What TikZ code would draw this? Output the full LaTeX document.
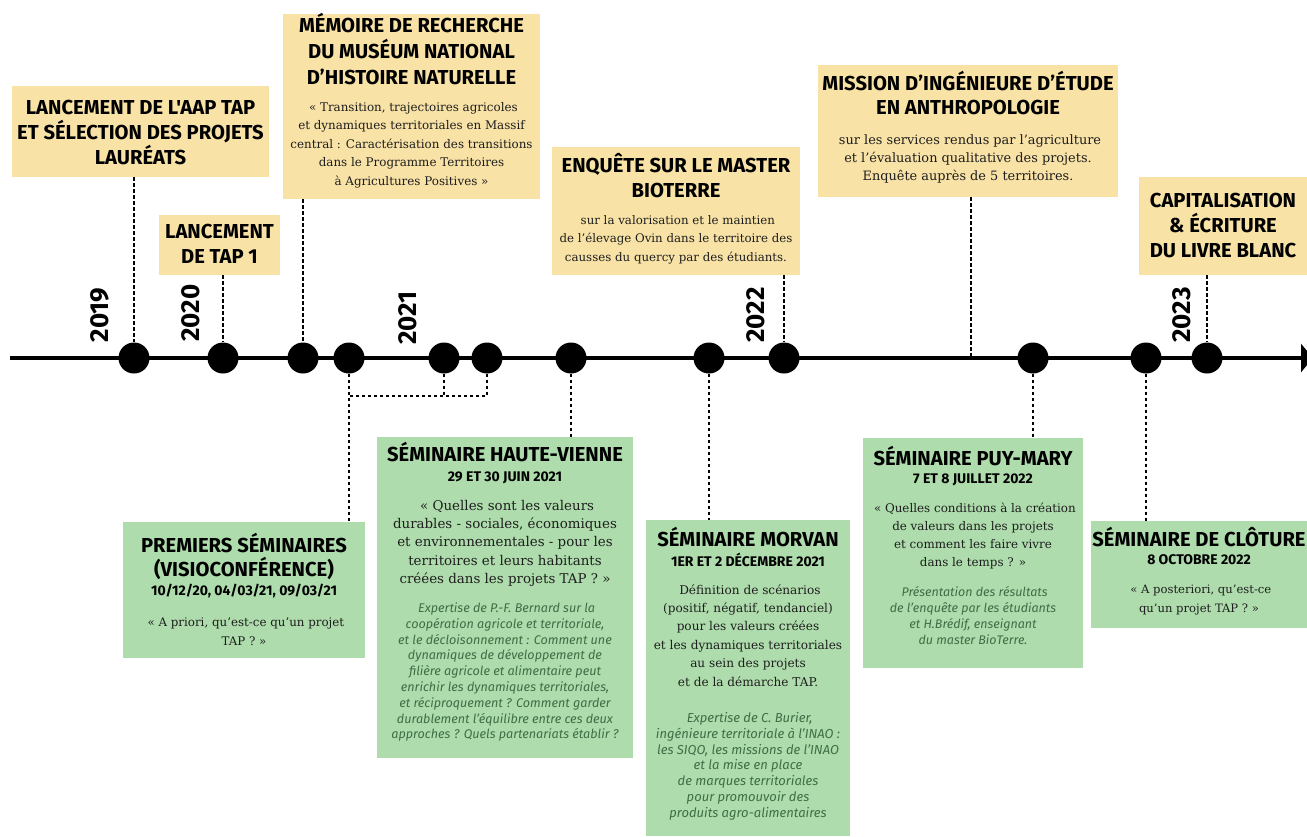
\documentclass[tikz,border=0pt]{standalone}
\usepackage{fontspec}
\setmainfont{DejaVu Serif}
\newfontfamily\hdfont{Fira Sans}
\newfontfamily\itfont{Fira Sans}
\usetikzlibrary{arrows.meta}
\definecolor{ylw}{RGB}{248,226,166}
\definecolor{grn}{RGB}{174,220,172}
\definecolor{itgreen}{RGB}{62,110,70}
\definecolor{bodytxt}{RGB}{30,30,30}
\newcommand\ttlf{\color{black}\hdfont\bfseries\fontsize{20.2}{25}\selectfont}
\newcommand\datef{\hdfont\bfseries\fontsize{14}{16}\selectfont}
\newcommand\bodyf[2]{\color{bodytxt}\fontsize{#1}{#2}\selectfont}
\newcommand\itf[2]{\itfont\itshape\color{itgreen}\fontsize{#1}{#2}\selectfont}
\newcommand\pb[1]{\parbox[t]{340pt}{\centering\leavevmode #1\par}}
\tikzset{
  ybox/.style={fill=ylw, draw=none, inner sep=0pt},
  gbox/.style={fill=grn, draw=none, inner sep=0pt},
  txt/.style={anchor=base, inner sep=0pt},
  dot/.style={circle, fill=black, minimum size=31pt, inner sep=0pt},
  conn/.style={line width=1.8pt, dash pattern=on 3.5pt off 2.5pt},
  yearlbl/.style={rotate=90, inner sep=0pt, font=\hdfont\bfseries\fontsize{26}{26}\selectfont},
  axis/.style={line width=3.5pt, -{Triangle[length=12pt, width=28pt]}}
}
\begin{document}
\begin{tikzpicture}[x=1pt,y=-1pt]
\useasboundingbox (0,0) rectangle (1307,836);

% boxes
\node[ybox, minimum width=257pt, minimum height=91pt] (bA) at (140.5,131.5) {};
\node[ybox, minimum width=121pt, minimum height=60pt] (bB) at (219.5,245) {};
\node[ybox, minimum width=257pt, minimum height=185pt] (bC) at (411.5,106.5) {};
\node[ybox, minimum width=248pt, minimum height=128pt] (bD) at (676,211) {};
\node[ybox, minimum width=300pt, minimum height=132pt] (bE) at (968,131) {};
\node[ybox, minimum width=168pt, minimum height=98pt] (bF) at (1223,226) {};
\node[gbox, minimum width=242pt, minimum height=136pt] (bG) at (244,590) {};
\node[gbox, minimum width=256pt, minimum height=321pt] (bH) at (505,597.5) {};
\node[gbox, minimum width=204pt, minimum height=316pt] (bI) at (748,678) {};
\node[gbox, minimum width=220pt, minimum height=230pt] (bJ) at (973,553) {};
\node[gbox, minimum width=216pt, minimum height=107pt] (bK) at (1199,574.5) {};

% timeline
\coordinate (ls) at (10,358);
\coordinate (le) at (1313,358);
\draw[axis] (ls) -- (le);

% dots
\node[dot] (d1) at (134,358) {};
\node[dot] (d2) at (223,358) {};
\node[dot] (d3) at (303,358) {};
\node[dot] (d4) at (349,358) {};
\node[dot] (d5) at (444,358) {};
\node[dot] (d6) at (487,358) {};
\node[dot] (d7) at (571,358) {};
\node[dot] (d8) at (709,358) {};
\node[dot] (d9) at (784,358) {};
\node[dot] (d10) at (1033,358) {};
\node[dot] (d11) at (1146,358) {};
\node[dot] (d12) at (1207,358) {};
\coordinate (eE) at (971,358);
\coordinate (br) at (349,396);

% connectors
\draw[conn] (d1 |- bA.south) -- (d1);
\draw[conn] (d2 |- bB.south) -- (d2);
\draw[conn] (d3 |- bC.south) -- (d3);
\draw[conn] (d9 |- bD.south) -- (d9);
\draw[conn] (eE |- bE.south) -- (eE);
\draw[conn] (d12 |- bF.south) -- (d12);
\draw[conn] (d4) -- (d4 |- bG.north);
\draw[conn] (d5) -- (d5 |- br);
\draw[conn] (d6) -- (d6 |- br) -- (br);
\draw[conn] (d7) -- (d7 |- bH.north);
\draw[conn] (d8) -- (d8 |- bI.north);
\draw[conn] (d10) -- (d10 |- bJ.north);
\draw[conn] (d11) -- (d11 |- bK.north);

% years
\node[yearlbl] (y19) at (100,315) {2019};
\node[yearlbl] (y20) at (191,313) {2020};
\node[yearlbl] (y21) at (408,318) {2021};
\node[yearlbl] (y22) at (756,315) {2022};
\node[yearlbl] (y23) at (1182,315) {2023};

% texts top
\node[txt] (tA) at (140.5,114.5) {\pb{\ttlf LANCEMENT DE L'AAP TAP\\ET SÉLECTION DES PROJETS\\LAURÉATS}};
\node[txt] (tB) at (219.5,238.5) {\pb{\ttlf LANCEMENT\\DE TAP 1}};
\node[txt] (tC) at (411.5,32.5) {\pb{\ttlf\fontsize{20.2}{26}\selectfont MÉMOIRE DE RECHERCHE\\DU MUSÉUM NATIONAL\\D’HISTOIRE NATURELLE}};
\node[txt] (sC) at (411.5,111) {\pb{\bodyf{11.9}{18.5} « Transition, trajectoires agricoles\\et dynamiques territoriales en Massif\\central : Caractérisation des transitions\\dans le Programme Territoires\\à Agricultures Positives »}};
\node[txt] (tD) at (676,172.5) {\pb{\ttlf ENQUÊTE SUR LE MASTER\\BIOTERRE}};
\node[txt] (sD) at (676,224) {\pb{\bodyf{11.8}{18.5} sur la valorisation et le maintien\\de l’élevage Ovin dans le territoire des\\causses du quercy par des étudiants.}};
\node[txt] (tE) at (968,90.5) {\pb{\ttlf\fontsize{20.2}{24}\selectfont MISSION D’INGÉNIEURE D’ÉTUDE\\EN ANTHROPOLOGIE}};
\node[txt] (sE) at (968,144) {\pb{\bodyf{12.9}{18} sur les services rendus par l’agriculture\\et l’évaluation qualitative des projets.\\Enquête auprès de 5 territoires.}};
\node[txt] (tF) at (1223,207.5) {\pb{\ttlf CAPITALISATION\\\& ÉCRITURE\\DU LIVRE BLANC}};

% texts bottom
\node[txt] (tG) at (244,552.5) {\pb{\ttlf\fontsize{20.2}{24}\selectfont PREMIERS SÉMINAIRES\\(VISIOCONFÉRENCE)}};
\node[txt] (dG) at (244,595.5) {\pb{\datef 10/12/20, 04/03/21, 09/03/21}};
\node[txt] (sG) at (244,626) {\pb{\bodyf{11.85}{19.5} « A priori, qu’est-ce qu’un projet\\TAP ? »}};

\node[txt] (tH) at (505,461.5) {\pb{\ttlf SÉMINAIRE HAUTE-VIENNE}};
\node[txt] (dH) at (505,481.5) {\pb{\datef 29 ET 30 JUIN 2021}};
\node[txt] (sH) at (505,510) {\pb{\bodyf{13.4}{18.4} « Quelles sont les valeurs\\durables - sociales, économiques\\et environnementales - pour les\\territoires et leurs habitants\\créées dans les projets TAP ? »}};
\node[txt] (iH) at (505,612.5) {\pb{\itf{12.6}{15.8} Expertise de P.-F. Bernard sur la\\coopération agricole et territoriale,\\et le décloisonnement : Comment une\\dynamiques de développement de\\filière agricole et alimentaire peut\\enrichir les dynamiques territoriales,\\et réciproquement ? Comment garder\\durablement l’équilibre entre ces deux\\approches ? Quels partenariats établir ?}};

\node[txt] (tI) at (748,546.5) {\pb{\ttlf SÉMINAIRE MORVAN}};
\node[txt] (dI) at (748,566.5) {\pb{\datef 1ER ET 2 DÉCEMBRE 2021}};
\node[txt] (sI) at (748,594) {\pb{\bodyf{12.1}{18.4} Définition de scénarios\\(positif, négatif, tendanciel)\\pour les valeurs créées\\et les dynamiques territoriales\\au sein des projets\\et de la démarche TAP.}};
\node[txt] (iI) at (748,722.5) {\pb{\itf{13}{15.8} Expertise de C. Burier,\\ingénieure territoriale à l’INAO :\\les SIQO, les missions de l’INAO\\et la mise en place\\de marques territoriales\\pour promouvoir des\\produits agro-alimentaires}};

\node[txt] (tJ) at (973,465.5) {\pb{\ttlf SÉMINAIRE PUY-MARY}};
\node[txt] (dJ) at (973,483.5) {\pb{\datef 7 ET 8 JUILLET 2022}};
\node[txt] (sJ) at (973,512) {\pb{\bodyf{11.9}{18} « Quelles conditions à la création\\de valeurs dans les projets\\et comment les faire vivre\\dans le temps ? »}};
\node[txt] (iJ) at (973,596.5) {\pb{\itf{12.5}{16} Présentation des résultats\\de l’enquête par les étudiants\\et H.Brédif, enseignant\\du master BioTerre.}};

\node[txt] (tK) at (1199,546.5) {\pb{\ttlf SÉMINAIRE DE CLÔTURE}};
\node[txt] (dK) at (1199,564.5) {\pb{\datef 8 OCTOBRE 2022}};
\node[txt] (sK) at (1199,593) {\pb{\bodyf{11.6}{19} « A posteriori, qu’est-ce\\qu’un projet TAP ? »}};
\end{tikzpicture}
\end{document}
